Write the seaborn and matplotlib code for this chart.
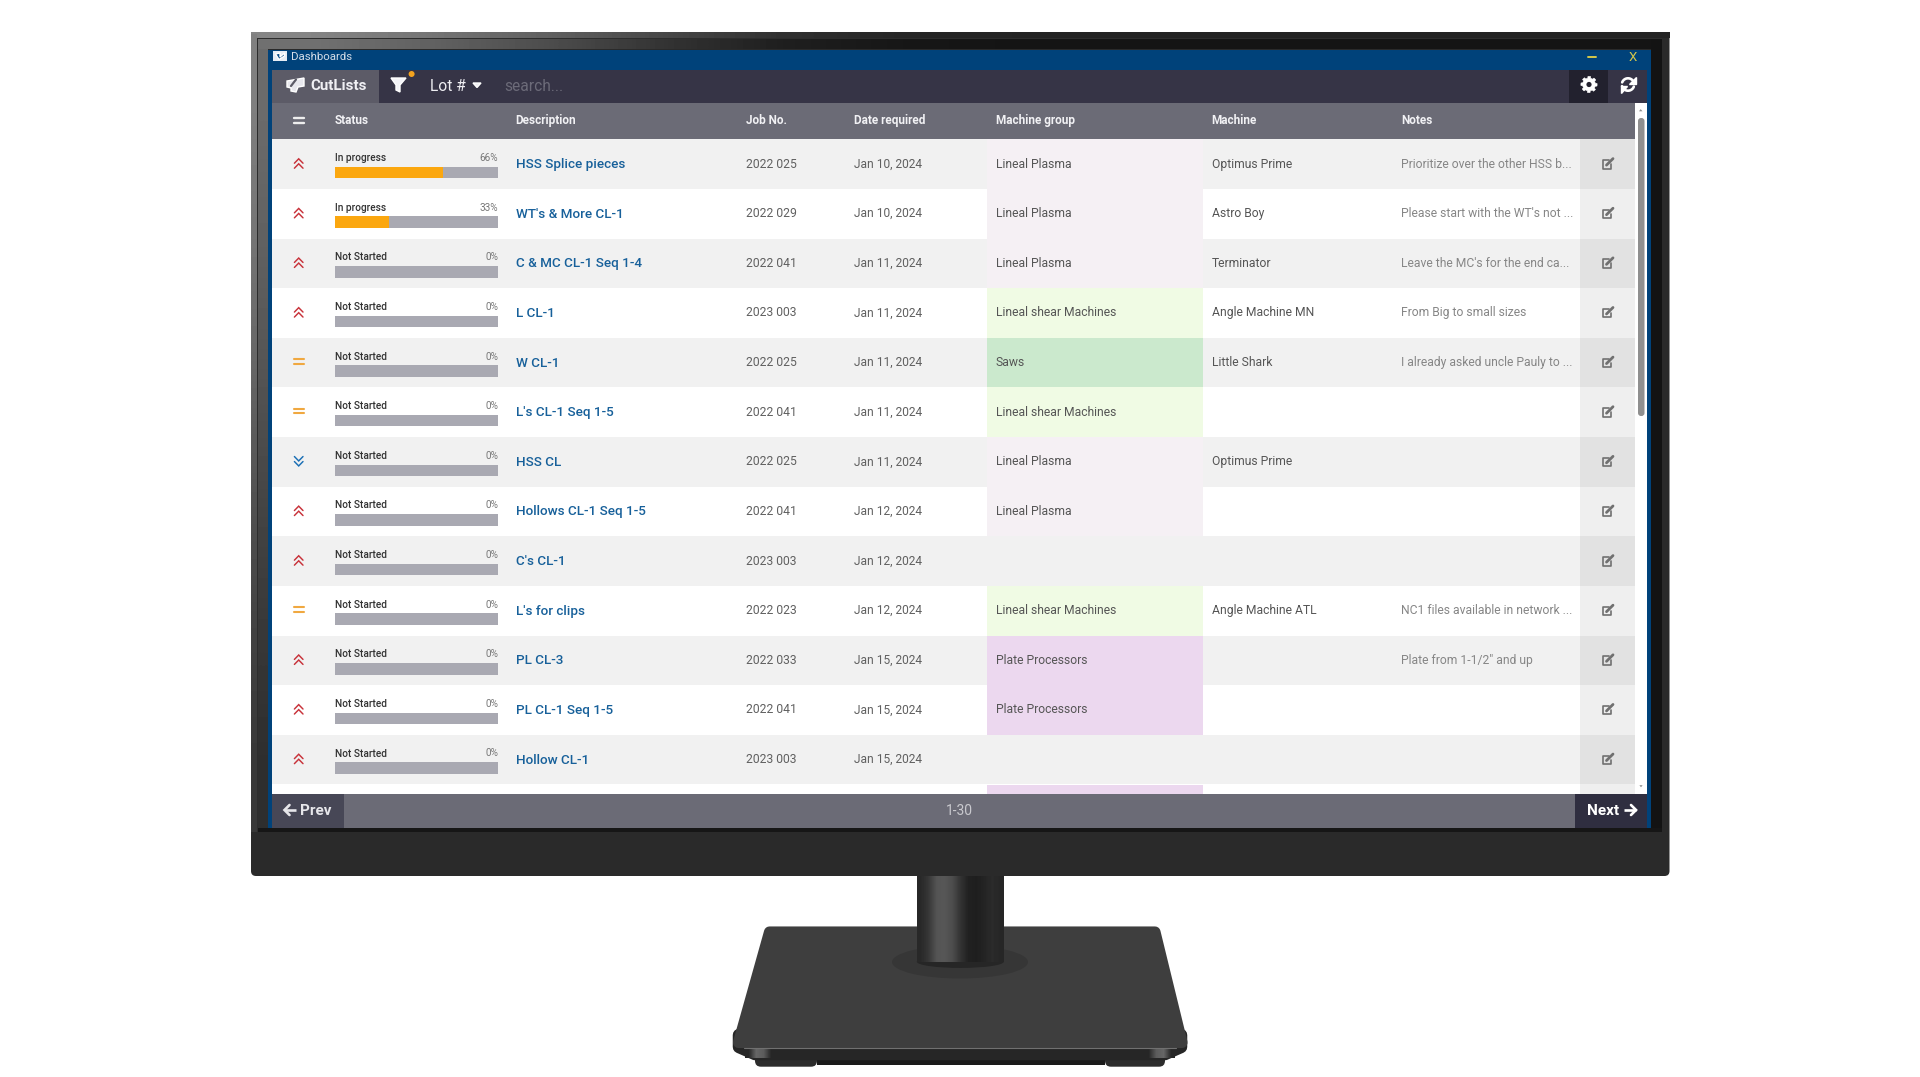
import numpy as np
import pandas as pd
import seaborn as sns
import matplotlib
matplotlib.use("Agg")
import matplotlib.pyplot as plt
from matplotlib.patches import Rectangle, Polygon, FancyBboxPatch, Ellipse, Circle

# ---------- data ----------
priority = ["high", "high", "high", "high", "medium", "medium", "low", "high", "high", "medium", "high", "high", "high"]
status = ["In progress", "In progress", "Not Started", "Not Started", "Not Started", "Not Started", "Not Started",
          "Not Started", "Not Started", "Not Started", "Not Started", "Not Started", "Not Started"]
progress = [66, 33, 0, 0, 0, 0, 0, 0, 0, 0, 0, 0, 0]
description = ["HSS Splice pieces", "WT's & More CL-1", "C & MC CL-1 Seq 1-4", "L CL-1", "W CL-1", "L's CL-1 Seq 1-5",
               "HSS CL", "Hollows CL-1 Seq 1-5", "C's CL-1", "L's for clips", "PL CL-3", "PL CL-1 Seq 1-5", "Hollow CL-1"]
job_no = ["2022 025", "2022 029", "2022 041", "2023 003", "2022 025", "2022 041", "2022 025", "2022 041", "2023 003",
          "2022 023", "2022 033", "2022 041", "2023 003"]
date_required = ["Jan 10, 2024", "Jan 10, 2024", "Jan 11, 2024", "Jan 11, 2024", "Jan 11, 2024", "Jan 11, 2024",
                 "Jan 11, 2024", "Jan 12, 2024", "Jan 12, 2024", "Jan 12, 2024", "Jan 15, 2024", "Jan 15, 2024",
                 "Jan 15, 2024"]
machine_group = ["Lineal Plasma", "Lineal Plasma", "Lineal Plasma", "Lineal shear Machines", "Saws",
                 "Lineal shear Machines", "Lineal Plasma", "Lineal Plasma", "", "Lineal shear Machines",
                 "Plate Processors", "Plate Processors", ""]
machine = ["Optimus Prime", "Astro Boy", "Terminator", "Angle Machine MN", "Little Shark", "", "Optimus Prime", "", "",
           "Angle Machine ATL", "", "", ""]
notes = ["Prioritize over the other HSS b...", "Please start with the WT's not ...", "Leave the MC's for the end ca...",
         "From Big to small sizes", "I already asked uncle Pauly to ...", "", "", "", "",
         "NC1 files available in network ...", "Plate from 1-1/2\" and up", "", ""]
headers = ["Status", "Description", "Job No.", "Date required", "Machine group", "Machine", "Notes"]
group_colors = {"Lineal Plasma": "#f5f0f4", "Lineal shear Machines": "#f0fbe4", "Saws": "#cbe9cd",
                "Plate Processors": "#ecd8ef", "": None}

# ---------- theme ----------
sns.set_theme(style="white")
plt.rcParams["font.family"] = ["Roboto", "DejaVu Sans"]

W, H = 1920, 1077
fig = plt.figure(figsize=(W / 100, H / 100), dpi=100, facecolor="white")
ax = fig.add_axes([0, 0, 1, 1])
ax.set_xlim(0, W)
ax.set_ylim(H, 0)
ax.axis("off")


def rect(x0, y0, x1, y1, color, z=2, **kw):
    ax.add_patch(Rectangle((x0, y0), x1 - x0, y1 - y0, fc=color, ec="none", lw=0, zorder=z, **kw))


def gradient(x0, y0, x1, y1, values, clip=None, z=2, horizontal=True):
    arr = np.array(values, dtype=float)
    arr = arr[None, :] if horizontal else arr[:, None]
    im = ax.imshow(arr, extent=(x0, x1, y1, y0), cmap="gray", vmin=0, vmax=1, aspect="auto",
                   interpolation="bilinear", zorder=z)
    if clip is not None:
        im.set_clip_path(clip)
    return im


def label(x, y, s, size, color, weight="normal", ha="left", z=6):
    # y is the visual centre of the capitals; convert to a stable baseline
    ax.text(x, y + 0.355 * size * 100 / 72, s, fontsize=size, color=color, fontweight=weight, ha=ha, va="baseline",
            zorder=z)


def arrow(x0, x1, y, color):
    d = 1 if x1 > x0 else -1
    ax.plot([x0, x1], [y, y], color=color, lw=1.9, zorder=6, solid_capstyle="butt")
    ax.plot([x1 - d * 5, x1, x1 - d * 5], [y - 5, y, y + 5], color=color, lw=1.9, zorder=6, solid_joinstyle="miter")


# ---------- monitor stand ----------
lower = Polygon([(739, 1035), (1181, 1035), (1181, 1047), (1165, 1054), (755, 1054), (739, 1047)], closed=True,
                fc="#262626", ec="#262626", lw=9, joinstyle="round", zorder=1)
ax.add_patch(lower)
rect(817, 1055, 1105, 1065, "#1a1a1a", z=0.9)
ax.add_patch(FancyBboxPatch((755, 1054), 62, 12.7, boxstyle="round,pad=0,rounding_size=6", fc="#2c2c2c", ec="none", zorder=0.9))
ax.add_patch(FancyBboxPatch((1105, 1054), 60, 12.7, boxstyle="round,pad=0,rounding_size=6", fc="#2c2c2c", ec="none", zorder=0.9))
gradient(745, 1049, 775, 1058, [.15, .40, .36, .15], z=1.2)
gradient(1145, 1049, 1175, 1058, [.15, .36, .40, .15], z=1.2)
base_top = Polygon([(769.5, 932), (1155, 932), (1182, 1042.5), (738.5, 1042.5)], closed=True, fc="#3e3e3e",
                   ec="#3e3e3e", lw=8, joinstyle="round", zorder=2)
ax.add_patch(base_top)
ax.plot([744, 1176], [1048.2, 1048.2], color="#707070", lw=0.8, zorder=2.1)
ax.add_patch(Ellipse((960, 962), 136, 33, fc="#363636", ec="none", zorder=3))
ax.add_patch(Ellipse((960.3, 961.7), 87, 12.5, fc="#262626", ec="none", zorder=3.5))
neck = Rectangle((917, 870), 87, 92, fc="none", ec="none", zorder=4)
ax.add_patch(neck)
gradient(917, 870, 1004, 962, [.16, .22, .33, .34, .30, .20, .13, .12, .14, .17, .15], clip=neck, z=4)

# ---------- monitor body ----------
body = FancyBboxPatch((251, 32.5), 1418.5, 843.5, boxstyle="round,pad=0,rounding_size=5", fc="#2a2a2a", ec="none", zorder=5)
ax.add_patch(body)
gradient(251, 32.5, 1669.5, 38, [.52, .46, .38, .28, .19, .15, .14, .14, .14, .14, .14, .14], z=5.1)
gradient(251, 34, 257, 832, [.50, .46, .40, .32, .26, .22], z=5.1, horizontal=False)
gradient(258, 39, 1662, 49.5, [.44, .38, .30, .20, .12, .09, .08, .08, .08, .08, .08, .08], z=5.2)
gradient(258, 49.5, 268, 832, [.42, .38, .33, .27, .22, .18], z=5.2, horizontal=False)
rect(1651, 39, 1662, 832, "#131313", z=5.2)
rect(257, 38, 1662, 39, "#2d2d2d", z=5.25)
rect(257, 38, 258, 832, "#2d2d2d", z=5.25)
rect(258, 828, 1662, 832, "#161616", z=5.3)

# ---------- window ----------
SX0, SX1 = 272, 1647
rect(268, 49.5, 1651, 828, "#00427a", z=5.5)
rect(SX0, 102.7, SX1, 794, "#ffffff", z=5.55)
rect(SX0, 69.5, SX1, 102.7, "#363446", z=5.6)
rect(SX0, 102.7, 1635, 139.3, "#6b6b76", z=5.6)
rect(SX0, 794, SX1, 828, "#6b6b76", z=5.6)
rect(SX0, 69.5, 379, 102.7, "#5c5b67", z=5.7)
rect(1569, 69.5, 1608, 102.7, "#22212e", z=5.7)
rect(SX0, 794, 344, 828, "#474756", z=5.7)
rect(1575, 794, SX1, 828, "#2f2e40", z=5.7)

# title bar
rect(273, 51, 287, 60.5, "#e6edf5", z=6)
ax.add_patch(Polygon([(275.5, 54), (280, 53), (280, 57), (284.5, 53), (284.5, 56), (279, 59.5)], fc="#0a4d88", zorder=6.1))
label(291, 56, "Dashboards", 8.2, "#d5dde8")
ax.plot([1588, 1596], [57, 57], color="#d6c84a", lw=1.4, zorder=6)
label(1632.5, 56.5, "X", 9.5, "#d6c84a", ha="center")

# toolbar
ax.add_patch(Polygon([(287, 81), (304, 78), (304, 86), (298, 87), (296, 92), (291, 91), (291, 88), (287, 87)],
                     fc="#e8e8ee", zorder=6))
ax.plot([296, 291], [79.5, 86], color="#5c5b67", lw=1.6, zorder=6.1)
label(310.5, 85, "CutLists", 10.9, "#f0f0f4", weight="bold")
ax.add_patch(Polygon([(391, 78), (406, 78), (400, 85), (400, 92), (396, 90), (396, 85)], fc="#f4f4f8", zorder=6))
ax.add_patch(Circle((411.6, 74), 3, fc="#f4a21e", ec="none", zorder=6))
label(430, 85, "Lot #", 11.2, "#eeeef2")
ax.add_patch(Polygon([(473, 83), (481, 83), (477, 87.5)], fc="#eeeef2", zorder=6))
label(504.5, 85.5, "search...", 11.2, "#6c6b79")

# gear icon
gx, gy = 1589, 84.5
ang = np.linspace(0, 2 * np.pi, 96, endpoint=False)
rad = 6.4 + 1.7 * (np.cos(8 * ang) > 0)
ax.add_patch(Polygon(np.c_[gx + rad * np.cos(ang), gy + rad * np.sin(ang)], fc="#ffffff", ec="#ffffff", lw=0.4, zorder=6))
ax.add_patch(Circle((gx, gy), 2.6, fc="#22212e", ec="none", zorder=6.1))
# refresh icon
rx, ry = 1628, 84.5
for a0, a1 in ((200, 345), (20, 165)):
    t = np.radians(np.linspace(a0, a1, 20))
    ax.plot(rx + 6.2 * np.cos(t), ry + 6.2 * np.sin(t), color="#ffffff", lw=1.9, zorder=6)
ax.add_patch(Polygon([(rx + 7.5, ry - 8), (rx + 7.5, ry - 1), (rx + 1, ry - 1)], fc="#ffffff", zorder=6))
ax.add_patch(Polygon([(rx - 7.5, ry + 8), (rx - 7.5, ry + 1), (rx - 1, ry + 1)], fc="#ffffff", zorder=6))

# header
HX = {"Status": 335, "Description": 515.6, "Job No.": 746, "Date required": 853.6, "Machine group": 995.5,
      "Machine": 1211.6, "Notes": 1401}
for h in headers:
    label(HX[h], 120, h, 8.5, "#f1f1f4", weight="bold")
ax.plot([293.5, 304], [117.5, 117.5], color="#eeeeee", lw=1.7, zorder=6)
ax.plot([293.5, 304], [122.5, 122.5], color="#eeeeee", lw=1.7, zorder=6)

# ---------- rows ----------
ROW_TOP, ROW_H = 139.3, 49.62
n = len(description)
CX = 298.7


def chevrons(cx, cy, color, up=True):
    d = -1 if up else 1
    for off in (-2.6, 2.4):
        ax.plot([cx - 4.3, cx, cx + 4.3], [cy + off - d * 2.2, cy + off + d * 2.2, cy + off - d * 2.2],
                color=color, lw=1.05, zorder=6, solid_joinstyle="miter")


def edit_icon(cx, cy):
    c = "#707070"
    ax.plot([cx + 1.5, cx - 4.5, cx - 4.5, cx + 3.5, cx + 3.5], [cy - 3.5, cy - 3.5, cy + 5, cy + 5, cy + 0.5], color=c,
            lw=1.2, zorder=6)
    ax.plot([cx - 1, cx + 5.5], [cy + 1.5, cy - 5], color=c, lw=2.0, zorder=6)


for i in range(n + 1):
    top = ROW_TOP + i * ROW_H
    bot = top + ROW_H
    if i == n:
        bot = 794
    alt = i % 2 == 0
    rect(SX0, top, 1635, bot, "#f1f1f1" if alt else "#ffffff", z=5.6)
    rect(1580, top, 1635, bot, "#e2e2e2" if alt else "#efefef", z=5.65)
    if i == n:
        rect(987, top + 1, 1202.7, 793.5, group_colors["Plate Processors"], z=5.7)
        continue
    cy = top + ROW_H / 2 - 0.8
    grp = machine_group[i]
    if group_colors[grp]:
        rect(987, top, 1202.7, bot, group_colors[grp], z=5.7)
    if priority[i] == "high":
        chevrons(CX, cy + 0.3, "#c8323a", True)
    elif priority[i] == "low":
        chevrons(CX, cy + 0.3, "#1b6fb5", False)
    else:
        ax.plot([CX - 5, CX + 5], [cy - 2.5, cy - 2.5], color="#f0a840", lw=1.5, zorder=6)
        ax.plot([CX - 5, CX + 5], [cy + 2, cy + 2], color="#f0a840", lw=1.5, zorder=6)
    label(335, top + 18.2, status[i], 7.25, "#333333", weight="medium")
    label(498, top + 18.2, f"{progress[i]}%", 7.2, "#777777", ha="right")
    label(515.6, cy, description[i], 9.7, "#17609a", weight="medium")
    label(746, cy, job_no[i], 8.7, "#606060")
    label(853.6, cy, date_required[i], 8.65, "#606060")
    label(995.5, cy, grp, 8.7, "#555555")
    label(1211.6, cy, machine[i], 8.7, "#555555")
    label(1401, cy, notes[i], 8.7, "#868686")
    edit_icon(1607.5, cy + 0.3)

# scrollbar
rect(1635, 102.7, SX1, 794, "#ffffff", z=5.8)
ax.add_patch(FancyBboxPatch((1638, 118), 6.5, 298, boxstyle="round,pad=0,rounding_size=3", fc="#8f8f8f", ec="none", zorder=5.9))
ax.add_patch(Polygon([(1637.5, 112), (1644, 112), (1640.7, 108)], fc="#8f8f8f", zorder=5.9))
ax.add_patch(Polygon([(1638, 784.5), (1644, 784.5), (1641, 788.5)], fc="#8f8f8f", zorder=5.9))

# footer
arrow(296, 284.5, 810, "#e6e6ea")
label(300, 810, "Prev", 11, "#e6e6ea", weight="bold")
label(959.6, 810, "1-30", 10, "#c9c9ce", ha="center")
label(1587, 810, "Next", 11, "#ffffff", weight="bold")
arrow(1624, 1636, 810, "#ffffff")

# ---------- progress bars, through seaborn ----------
bar_ax = fig.add_axes([335 / W, 1 - 794 / H, (498 - 335) / W, (794 - 139.3) / H], facecolor="none", zorder=10)
df = pd.DataFrame({"description": description, "full": [100] * n, "progress": progress})
sns.barplot(data=df, x="full", y="description", color="#a9a9b2", width=11.6 / ROW_H, saturation=1, linewidth=0, ax=bar_ax)
sns.barplot(data=df, x="progress", y="description", color="#fba70f", width=11.6 / ROW_H, saturation=1, linewidth=0, ax=bar_ax)
bar_ax.set_xlim(0, 100)
off = (172.6 - ROW_TOP) / ROW_H
bar_ax.set_ylim((794 - ROW_TOP) / ROW_H - off, -off)
bar_ax.axis("off")

fig.savefig("out.png", dpi=100, facecolor="white")
